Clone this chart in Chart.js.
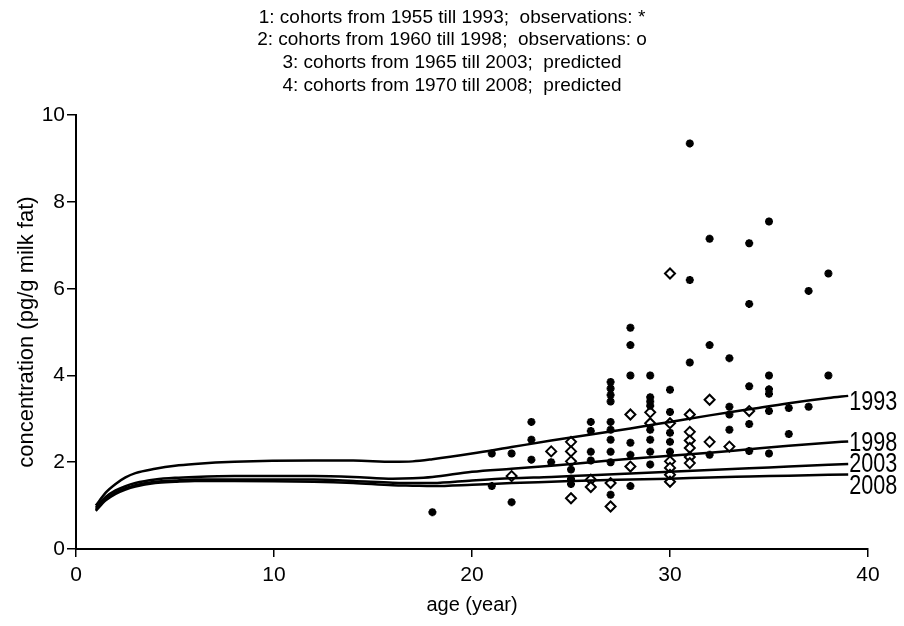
<!DOCTYPE html>
<html>
<head>
<meta charset="utf-8">
<script src="https://cdn.jsdelivr.net/npm/chart.js@4.4.0/dist/chart.umd.min.js"></script>
<style>
  body { margin: 0; background: #ffffff; }
  #wrap { width: 904px; height: 626px; }
</style>
</head>
<body>
<div id="wrap"><canvas id="chart" width="904" height="626"></canvas></div>
<script>
// ---------------------------------------------------------
// DATA
// ---------------------------------------------------------
const titleLines = [
  "1: cohorts from 1955 till 1993;  observations: *",
  "2: cohorts from 1960 till 1998;  observations: o",
  "3: cohorts from 1965 till 2003;  predicted",
  "4: cohorts from 1970 till 2008;  predicted"
];

// observations, cohort 1 (stars)
const starAges = [
  18, 21, 21, 22, 22, 23, 23, 23, 24, 25, 25, 25,
  26, 26, 26, 26,
  27, 27, 27, 27, 27, 27, 27, 27, 27, 27,
  28, 28, 28, 28, 28, 28,
  29, 29, 29, 29, 29, 29, 29, 29,
  30, 30, 30, 30, 30,
  31, 31, 31, 32, 32, 32,
  33, 33, 33, 33,
  34, 34, 34, 34, 34,
  35, 35, 35, 35, 35, 35,
  36, 36, 37, 37, 38, 38
];
const starValues = [
  0.85, 2.2, 1.45, 2.2, 1.08, 2.93, 2.52, 2.06, 2.0, 1.83, 1.62, 1.5,
  2.93, 2.72, 2.24, 2.04,
  3.85, 3.7, 3.55, 3.4, 2.93, 2.75, 2.52, 2.24, 2.0, 1.25,
  5.1, 4.7, 4.0, 2.45, 2.17, 1.45,
  4.0, 3.5, 3.4, 3.3, 2.75, 2.52, 2.24, 1.95,
  3.67, 3.16, 2.68, 2.47, 2.24,
  9.35, 6.2, 4.3, 7.15, 4.7, 2.17,
  4.4, 3.28, 3.1, 2.75,
  7.05, 5.65, 3.75, 2.88, 2.26,
  7.55, 4.0, 3.68, 3.58, 3.18, 2.2,
  3.25, 2.65, 5.95, 3.28, 6.35, 4.0
];

// observations, cohort 2 (open diamonds)
const diamondAges = [
  22, 24, 25, 25, 25, 25, 26, 26, 27, 27, 28, 28, 29, 29,
  30, 30, 30, 30, 30, 30,
  31, 31, 31, 31, 31, 31,
  32, 32, 33, 34
];
const diamondValues = [
  1.68, 2.25, 2.47, 2.25, 2.02, 1.17, 1.6, 1.43, 1.52, 0.98, 3.1, 1.9, 3.15, 2.9,
  6.35, 2.9, 2.02, 1.87, 1.71, 1.55,
  3.1, 2.7, 2.5, 2.33, 2.12, 1.98,
  3.44, 2.47, 2.36, 3.18
];

// predicted curves
const curveAges = [1, 1.5, 2, 2.5, 3, 4, 5, 6, 8, 12, 14, 16, 17, 18, 20, 22, 24, 26, 28, 30, 32, 34, 36, 38, 39];
const curve1993 = [1.0, 1.3, 1.5, 1.65, 1.75, 1.85, 1.92, 1.96, 2.01, 2.04, 2.04, 2.01, 2.02, 2.07, 2.2, 2.35, 2.5, 2.64, 2.78, 2.93, 3.08, 3.22, 3.36, 3.48, 3.53];
const curve1998 = [0.95, 1.2, 1.35, 1.45, 1.52, 1.6, 1.64, 1.66, 1.68, 1.68, 1.66, 1.62, 1.63, 1.66, 1.78, 1.85, 1.92, 2.0, 2.08, 2.15, 2.22, 2.3, 2.38, 2.45, 2.48];
const curve2003 = [0.9, 1.15, 1.3, 1.4, 1.47, 1.55, 1.58, 1.6, 1.6, 1.6, 1.57, 1.53, 1.52, 1.52, 1.58, 1.63, 1.66, 1.7, 1.74, 1.78, 1.82, 1.86, 1.9, 1.94, 1.96];
const curve2008 = [0.88, 1.12, 1.27, 1.37, 1.44, 1.52, 1.55, 1.57, 1.57, 1.55, 1.52, 1.47, 1.46, 1.45, 1.48, 1.52, 1.55, 1.58, 1.6, 1.62, 1.65, 1.67, 1.69, 1.71, 1.72];
const curveLabels = ["1993", "1998", "2003", "2008"];

// ---------------------------------------------------------
// HELPERS
// ---------------------------------------------------------
function toPoints(xs, ys) {
  return xs.map((x, i) => ({ x: x, y: ys[i] }));
}

const FONT = "'Liberation Sans', Arial, sans-serif";

function curveDataset(values, label) {
  return {
    type: "line",
    label: label,
    data: toPoints(curveAges, values),
    borderColor: "#000000",
    borderWidth: 2.5,
    pointRadius: 0,
    cubicInterpolationMode: "monotone",
    fill: false
  };
}

// writes the cohort year at the right end of each curve,
// squeezed a little sideways like the narrow print of the original
const LABEL_NUDGE = [7, 2, 1, 12];
const curveLabelPlugin = {
  id: "curveLabels",
  afterDatasetsDraw(chart) {
    const ctx = chart.ctx;
    ctx.save();
    ctx.font = "27px " + FONT;
    ctx.fillStyle = "#000000";
    ctx.textAlign = "left";
    ctx.textBaseline = "middle";
    curveLabels.forEach((text, i) => {
      const meta = chart.getDatasetMeta(i);
      const last = meta.data[meta.data.length - 1];
      ctx.save();
      ctx.translate(last.x + 1, last.y + LABEL_NUDGE[i]);
      ctx.scale(0.8, 1);
      ctx.fillText(text, 0, 0);
      ctx.restore();
    });
    ctx.restore();
  }
};

// ---------------------------------------------------------
// CHART
// ---------------------------------------------------------
new Chart(document.getElementById("chart"), {
  type: "scatter",
  data: {
    datasets: [
      curveDataset(curve1993, "1993"),
      curveDataset(curve1998, "1998"),
      curveDataset(curve2003, "2003"),
      curveDataset(curve2008, "2008"),
      {
        label: "observations *",
        data: toPoints(starAges, starValues),
        pointStyle: "star",
        pointRadius: 4,
        borderColor: "#000000",
        backgroundColor: "#000000",
        borderWidth: 2.5
      },
      {
        label: "observations o",
        data: toPoints(diamondAges, diamondValues),
        pointStyle: "rectRot",
        pointRadius: 5,
        borderColor: "#000000",
        backgroundColor: "#ffffff",
        borderWidth: 2
      }
    ]
  },
  options: {
    responsive: false,
    animation: false,
    layout: { padding: 0 },
    plugins: {
      legend: { display: false },
      tooltip: { enabled: false },
      title: {
        display: true,
        text: titleLines,
        color: "#000000",
        font: { family: FONT, size: 19, weight: "normal", lineHeight: 1.2 },
        padding: { top: 6, bottom: 18 }
      }
    },
    scales: {
      x: {
        type: "linear",
        min: 0,
        max: 40,
        afterFit(scale) { scale.height = 77; },
        ticks: {
          stepSize: 10,
          color: "#000000",
          padding: 6,
          font: { family: FONT, size: 21 }
        },
        grid: { drawOnChartArea: false, drawTicks: true, tickLength: 8, color: "#000000", lineWidth: 1.5 },
        border: { color: "#000000", width: 2 },
        title: {
          display: true,
          text: "age (year)",
          color: "#000000",
          font: { family: FONT, size: 20 },
          padding: { top: 0, bottom: 9 }
        }
      },
      y: {
        type: "linear",
        min: 0,
        max: 10,
        afterFit(scale) { scale.width = 76; },
        ticks: {
          stepSize: 2,
          color: "#000000",
          padding: 2,
          font: { family: FONT, size: 21 }
        },
        grid: { drawOnChartArea: false, drawTicks: true, tickLength: 9, color: "#000000", lineWidth: 1.5 },
        border: { color: "#000000", width: 2 },
        title: {
          display: true,
          text: "concentration (pg/g milk fat)",
          color: "#000000",
          font: { family: FONT, size: 22 },
          padding: { top: 14, bottom: 0 }
        }
      },
      // empty strip on the right, keeps the free margin where the labels sit
      yRight: {
        position: "right",
        display: true,
        afterFit(scale) { scale.width = 36; },
        ticks: { display: false },
        grid: { display: false },
        border: { display: false }
      }
    }
  },
  plugins: [curveLabelPlugin]
});
</script>
</body>
</html>
